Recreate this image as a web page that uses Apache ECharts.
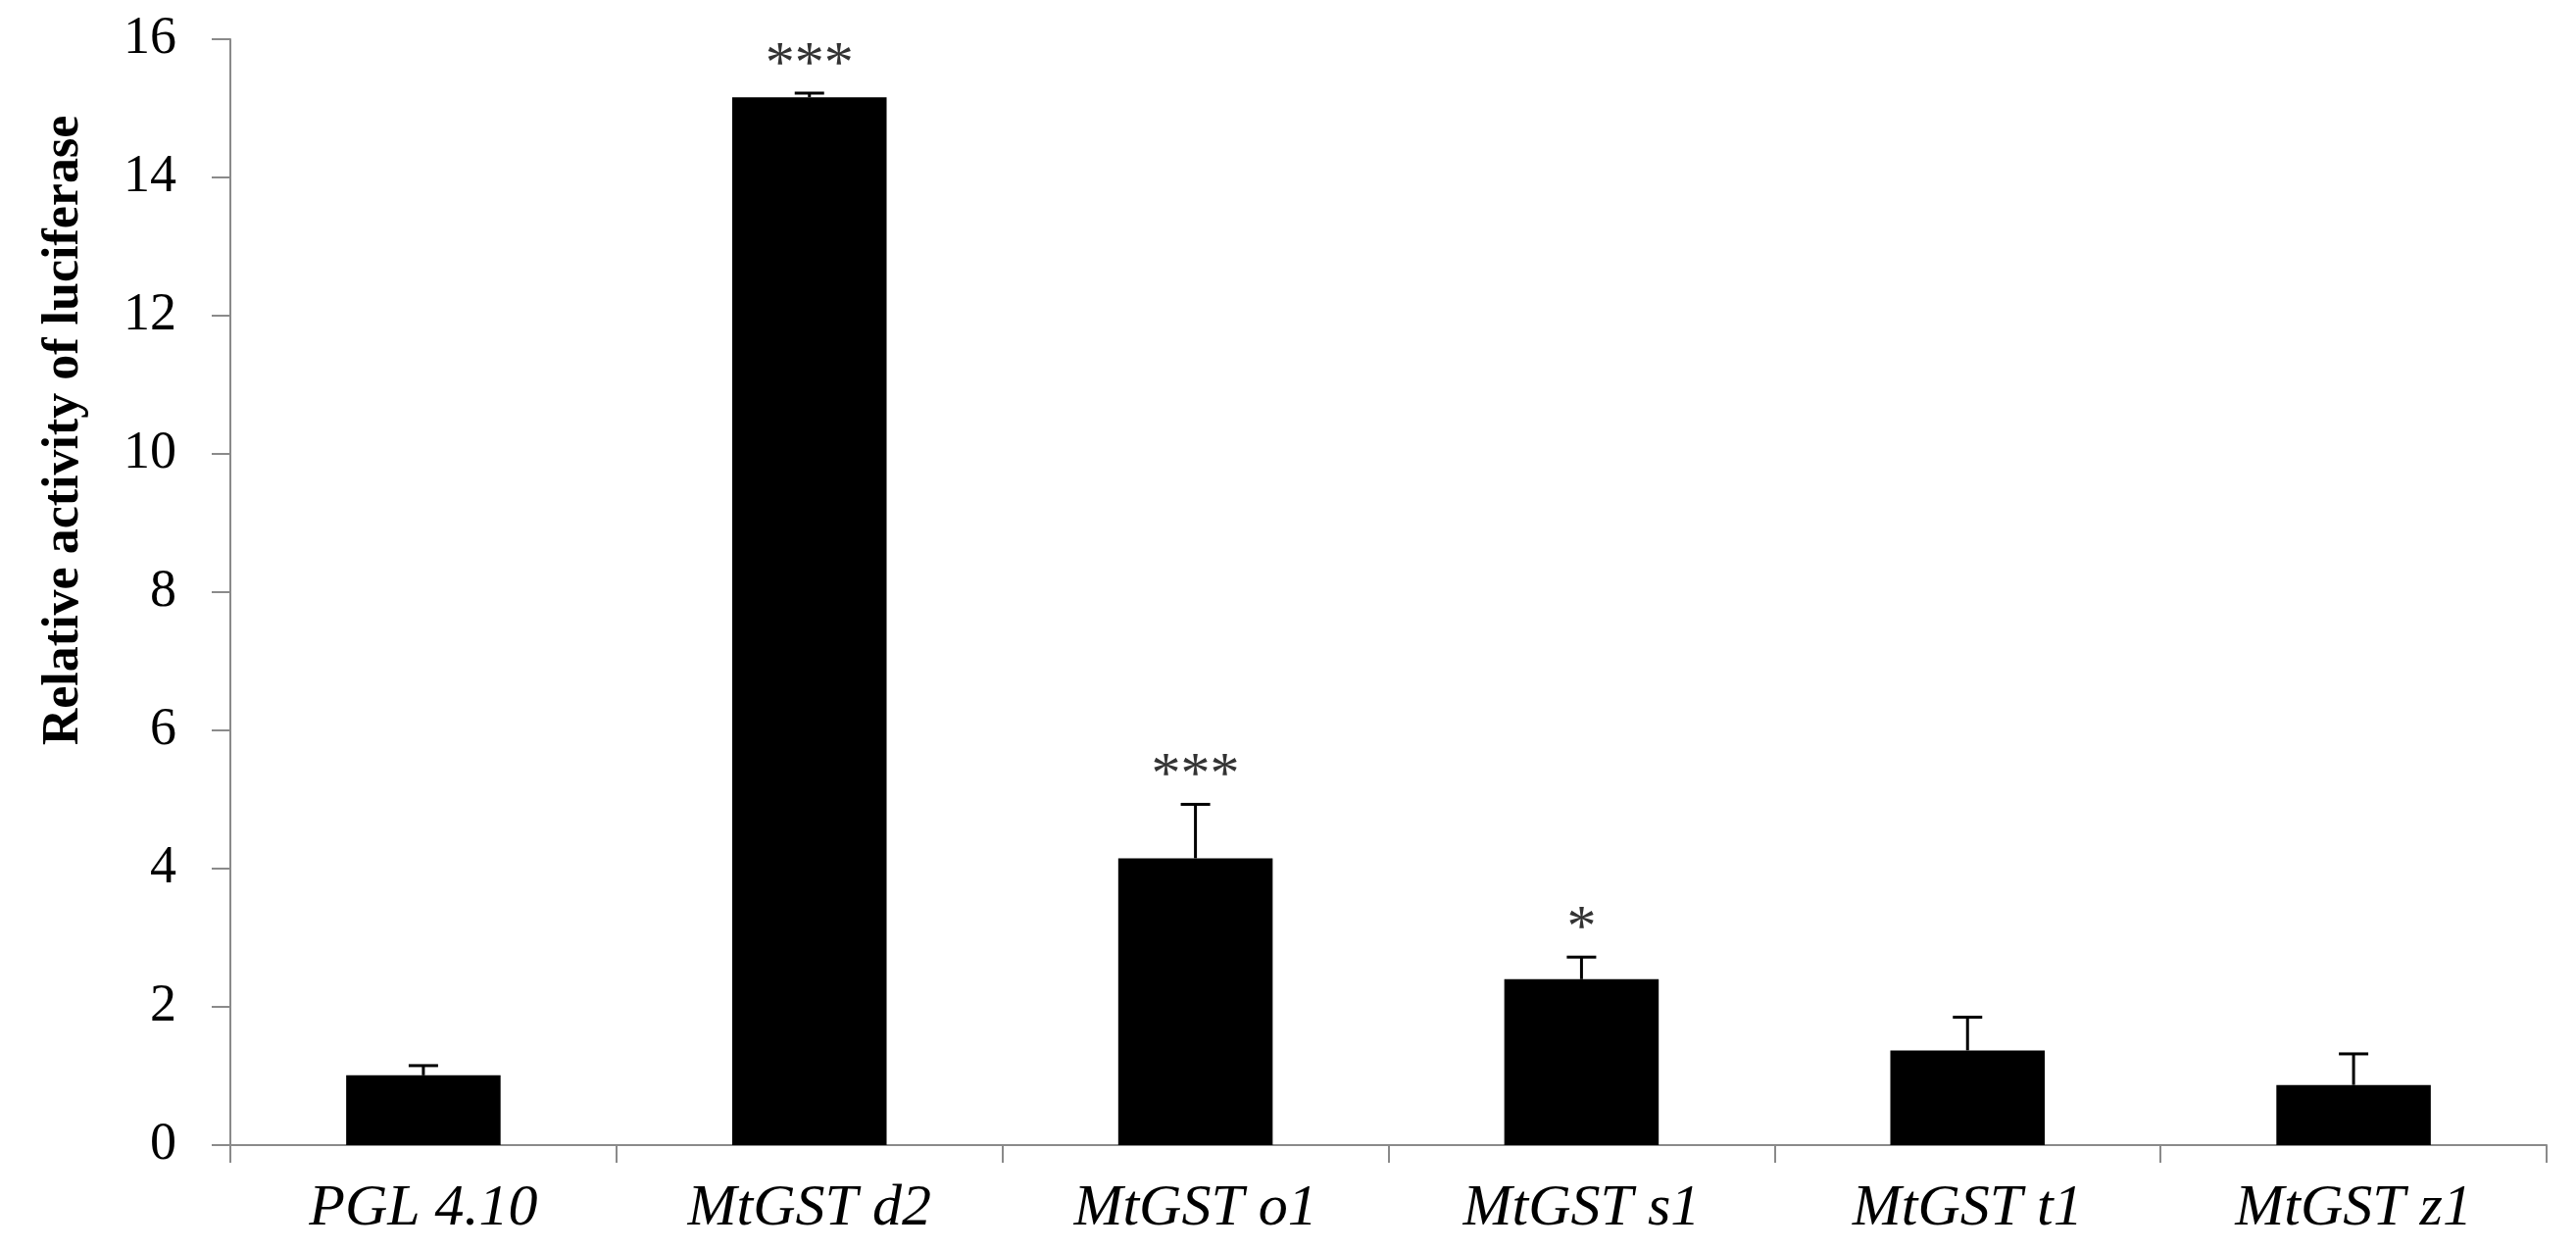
<!DOCTYPE html>
<html>
<head>
<meta charset="utf-8">
<script src="https://cdn.jsdelivr.net/npm/echarts@6/dist/echarts.min.js"></script>
<style>
  html, body { margin: 0; padding: 0; background: #fff; }
  #chart { width: 2628px; height: 1275px; }
</style>
</head>
<body>
<div id="chart"></div>
<script>
// 数据
var categories = ['PGL 4.10', 'MtGST d2', 'MtGST o1', 'MtGST s1', 'MtGST t1', 'MtGST z1'];
var means = [1.01, 15.16, 4.15, 2.40, 1.37, 0.87];
var errors = [0.14, 0.06, 0.78, 0.32, 0.48, 0.45];
var stars = ['', '***', '***', '*', '', ''];
var yTicks = [0, 2, 4, 6, 8, 10, 12, 14, 16];

var FONT = "'Liberation Serif', 'Times New Roman', serif";
var AXIS_GRAY = '#8a8a8a';

var errData = [];
for (var i = 0; i < categories.length; i++) {
    errData.push([i, means[i], errors[i]]);
}

var chart = echarts.init(document.getElementById('chart'));

var option = {
    backgroundColor: '#fff',
    animation: false,
    grid: {
        left: 235,
        right: 30,
        top: 40,
        bottom: 107
    },
    xAxis: {
        type: 'category',
        data: categories,
        boundaryGap: true,
        axisLine: { show: true, lineStyle: { color: AXIS_GRAY, width: 2 } },
        axisTick: { show: true, alignWithLabel: false, length: 18, lineStyle: { color: AXIS_GRAY, width: 2 } },
        axisLabel: {
            margin: 35,
            color: '#000',
            fontFamily: FONT,
            fontStyle: 'italic',
            fontSize: 60
        }
    },
    yAxis: {
        type: 'value',
        min: yTicks[0],
        max: yTicks[yTicks.length - 1],
        interval: 2,
        name: 'Relative activity of luciferase',
        nameLocation: 'middle',
        nameRotate: 90,
        nameGap: 143,
        nameTextStyle: {
            color: '#000',
            fontFamily: FONT,
            fontWeight: 'bold',
            fontSize: 52,
            // 标题整体偏上
            padding: [0, 0, 0, 330]
        },
        axisLine: { show: true, lineStyle: { color: AXIS_GRAY, width: 2 } },
        axisTick: { show: true, length: 19, lineStyle: { color: AXIS_GRAY, width: 2 } },
        splitLine: { show: false },
        axisLabel: {
            margin: 55,
            color: '#000',
            fontFamily: FONT,
            fontSize: 54
        }
    },
    series: [
        {
            type: 'bar',
            data: means,
            barWidth: '40%',
            itemStyle: { color: '#000' }
        },
        {
            // 误差线 + 显著性标记
            type: 'custom',
            z: 5,
            data: errData,
            encode: { x: 0, y: 1 },
            renderItem: function (params, api) {
                var idx = api.value(0);
                var base = api.coord([idx, api.value(1)]);
                var top = api.coord([idx, api.value(1) + api.value(2)]);
                var hw = 15;
                var children = [
                    {
                        type: 'line',
                        shape: { x1: base[0], y1: base[1], x2: top[0], y2: top[1] },
                        style: { stroke: '#000', lineWidth: 3 }
                    },
                    {
                        type: 'line',
                        shape: { x1: top[0] - hw, y1: top[1], x2: top[0] + hw, y2: top[1] },
                        style: { stroke: '#000', lineWidth: 3 }
                    }
                ];
                if (stars[idx]) {
                    children.push({
                        type: 'text',
                        style: {
                            text: stars[idx],
                            x: top[0],
                            y: top[1] - 28,
                            align: 'center',
                            verticalAlign: 'middle',
                            fontFamily: FONT,
                            fontSize: 60,
                            fill: '#333'
                        }
                    });
                }
                return { type: 'group', children: children };
            }
        }
    ]
};

chart.setOption(option);
</script>
</body>
</html>
